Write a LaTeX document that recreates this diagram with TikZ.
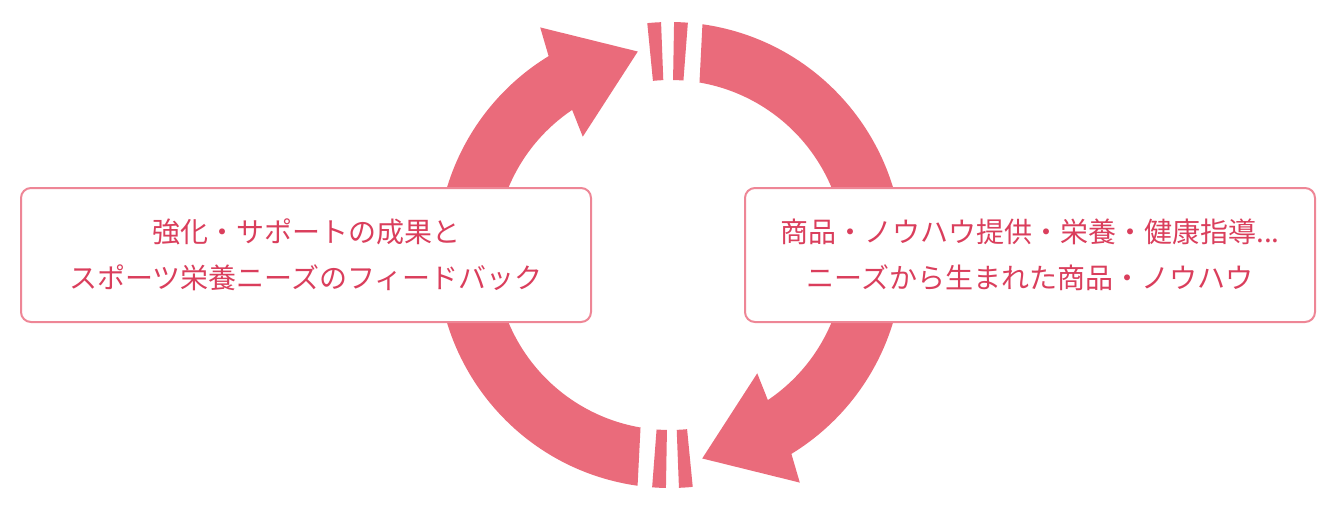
\documentclass[tikz,border=0pt]{standalone}
\usepackage{fontspec}
\setmainfont{Noto Sans CJK JP}
\definecolor{ringpink}{RGB}{234,107,123}
\definecolor{boxpink}{RGB}{238,134,150}
\definecolor{textpink}{RGB}{218,62,92}
\tikzset{
  ring/.style={fill=ringpink},
  infobox/.style={draw=boxpink, line width=1pt, rounded corners=5pt, fill=white,
    minimum width=285pt, minimum height=67pt, align=center, text=textpink,
    font=\fontsize{14}{23}\selectfont}
}
\begin{document}
\begin{tikzpicture}[x=0.5pt,y=0.5pt]
\useasboundingbox (0,0) rectangle (1336,510);
\coordinate (c) at (670,255);

% two arrows of the ring
\foreach \rot in {0,180} {
\begin{scope}[shift={(c)}, rotate=\rot]
\fill[ring] (262:233) arc[start angle=262, end angle=121.4, radius=233]
  -- (119.7:262) -- (99:206) -- (126.4:147) -- (124:175)
  arc[start angle=124, end angle=260.3, radius=175] -- cycle;
\end{scope}
}

% break marks in the gaps
\foreach \a in {87.3, 93.9, 267.3, 273.9} {
\begin{scope}[shift={(c)}]
\fill[ring] ({\a-1.7}:175) -- ({\a-1.7}:233)
  arc[start angle={\a-1.7}, end angle={\a+1.7}, radius=233]
  -- ({\a+1.7}:175)
  arc[start angle={\a+1.7}, end angle={\a-1.7}, radius=175] -- cycle;
\end{scope}
}

\node[infobox] (feedback) at (306,255) {強化・サポートの成果と\\スポーツ栄養ニーズのフィードバック};
\node[infobox] (supply) at (1030,255) {商品・ノウハウ提供・栄養・健康指導...\\ニーズから生まれた商品・ノウハウ};
\end{tikzpicture}
\end{document}
